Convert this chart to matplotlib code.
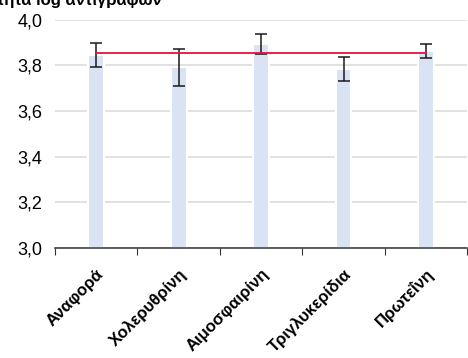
import matplotlib.pyplot as plt
from matplotlib.ticker import FuncFormatter

categories = ["Αναφορά", "Χολερυθρίνη", "Αιμοσφαιρίνη", "Τριγλυκερίδια", "Πρωτεΐνη"]
means = [3.845, 3.792, 3.891, 3.784, 3.862]
errors = [0.052, 0.081, 0.044, 0.052, 0.029]
reference = 3.852

plt.rcParams['font.family'] = ['Liberation Sans', 'DejaVu Sans']

fig = plt.figure(figsize=(4.68, 3.58), dpi=100)
ax = fig.add_axes([0.1175, 0.307, 0.881, 0.6385])

x = list(range(len(categories)))
ax.bar(x, [m - 3.0 for m in means], bottom=3.0, width=0.19,
       color="#dae3f3", edgecolor="white", linewidth=1.5, zorder=2)
ax.errorbar(x, means, yerr=errors, fmt="none", ecolor="#1a1a1a",
            elinewidth=1.1, capsize=4, capthick=1.1, zorder=3)
ax.plot([x[0], x[-1]], [reference, reference], color="#e8103c", lw=1.3, zorder=4)

ax.set_ylim(3.0, 4.0)
ax.set_xlim(-0.5, len(categories) - 0.5)
ax.set_yticks([3.0, 3.2, 3.4, 3.6, 3.8, 4.0])
ax.yaxis.set_major_formatter(FuncFormatter(lambda v, p: f"{v:.1f}".replace(".", ",")))
ax.yaxis.grid(True, color="#d9d9d9", lw=1.1, zorder=0)
ax.set_axisbelow(True)
ax.tick_params(axis="y", length=0, labelsize=13, pad=9)

ax.set_xticks([i - 0.5 for i in range(len(categories) + 1)])
ax.set_xticklabels([])
ax.tick_params(axis="x", which="major", length=5, color="#333333")
ax.set_xticks(x, minor=True)
ax.set_xticklabels(categories, minor=True, rotation=45, ha="right",
                   rotation_mode="anchor", fontsize=12, fontweight="bold")
ax.tick_params(axis="x", which="minor", length=0, pad=13)

for s in ["top", "right", "left"]:
    ax.spines[s].set_visible(False)
ax.spines["bottom"].set_color("#333333")
ax.spines["bottom"].set_linewidth(1.1)

fig.text(0.345, 1.0, "Μέση ποσότητα log αντιγράφων", fontsize=12,
         fontweight="bold", va="center", ha="right")

fig.savefig("out.png", dpi=100)
